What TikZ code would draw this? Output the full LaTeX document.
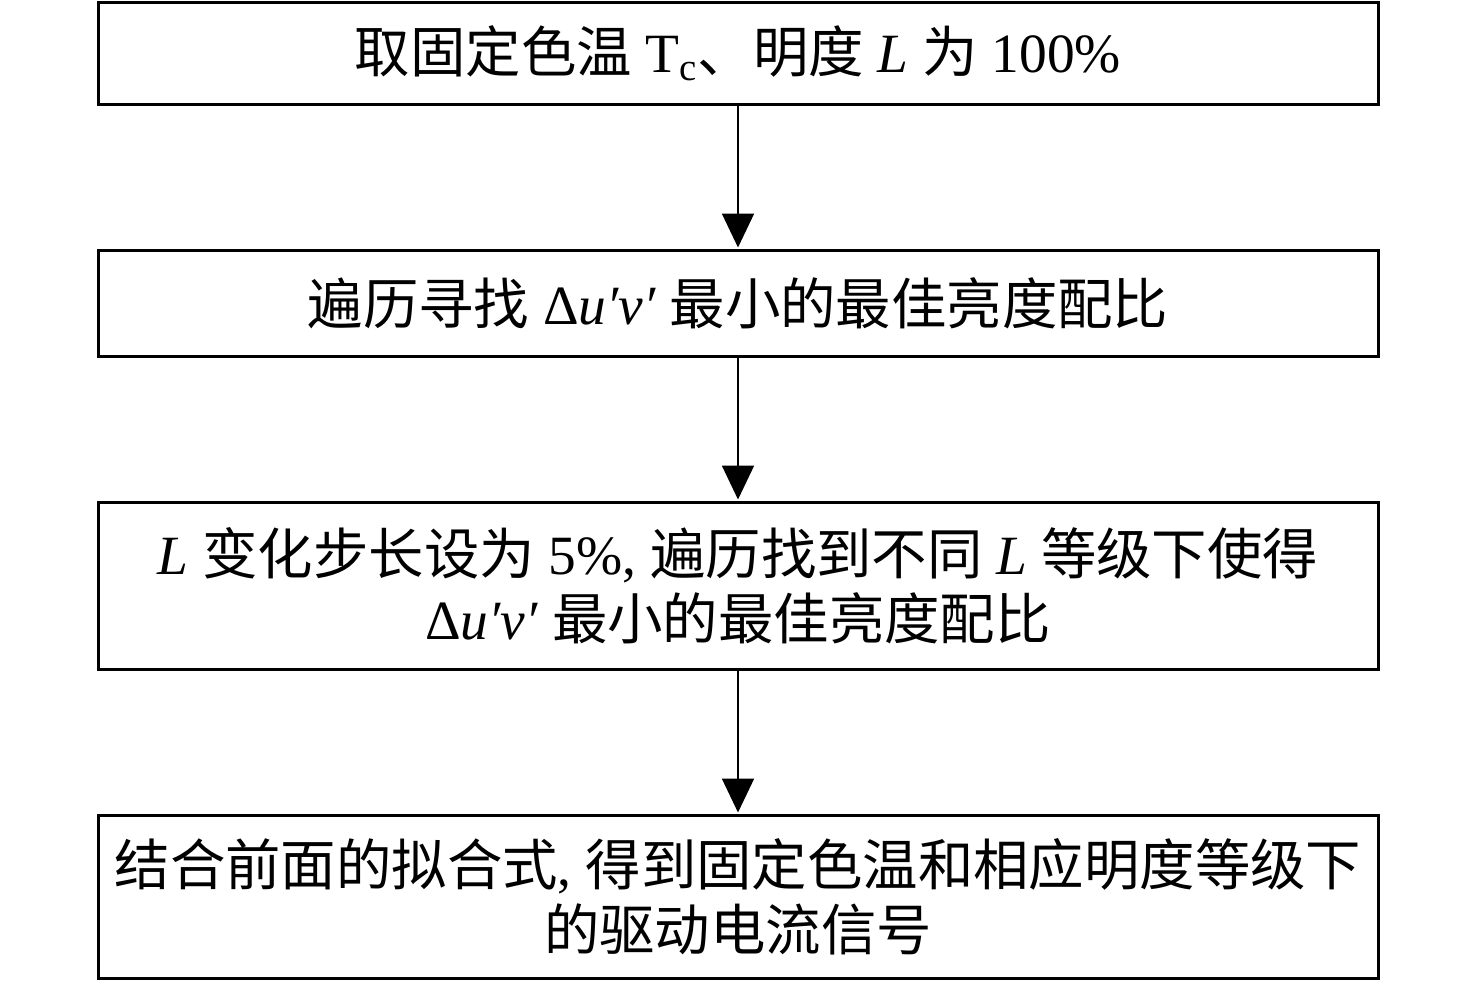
\documentclass[tikz,border=0pt]{standalone}
\usepackage{fontspec}
\setmainfont{Liberation Serif}
\newfontfamily\cjk{Noto Sans CJK SC}
\usetikzlibrary{arrows.meta}
\tikzset{
  stepbox/.style={draw, line width=1.5pt, minimum width=640pt, inner sep=0pt, align=center,
    font=\fontsize{27.7}{32.5}\selectfont},
  flowarrow/.style={line width=1pt, -{Triangle[width=16pt,length=17pt]}, shorten >=0.5pt}
}
\begin{document}
\begin{tikzpicture}[x=0.5pt,y=-0.5pt]
\useasboundingbox (0,0) rectangle (1476,981);
\node[stepbox, minimum height=51pt] (b1) at (738,53)
  {{\cjk 取固定色温} T\textsubscript{c}{\cjk 、明度} \textit{L} {\cjk 为} 100\%};
\node[stepbox, minimum height=53pt] (b2) at (738,303)
  {{\cjk 遍历寻找} Δ\textit{u′v′} {\cjk 最小的最佳亮度配比}};
\node[stepbox, minimum height=83.5pt] (b3) at (738,585.5)
  {\textit{L} {\cjk 变化步长设为} 5\%, {\cjk 遍历找到不同} \textit{L} {\cjk 等级下使得}\\
   Δ\textit{u′v′} {\cjk 最小的最佳亮度配比}};
\node[stepbox, minimum height=81.5pt] (b4) at (738,896.5)
  {{\cjk 结合前面的拟合式}, {\cjk 得到固定色温和相应明度等级下}\\
   {\cjk 的驱动电流信号}};
\draw[flowarrow] (b1.south) -- (b2.north);
\draw[flowarrow] (b2.south) -- (b3.north);
\draw[flowarrow] (b3.south) -- (b4.north);
\end{tikzpicture}
\end{document}
